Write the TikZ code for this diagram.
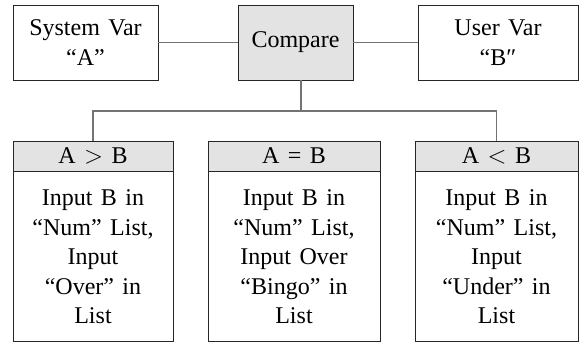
\documentclass[tikz,border=0pt]{standalone}
\usepackage{fontspec}
\setmainfont{Liberation Serif}[WordSpace=1.4]
\usepackage{tikz}
\usetikzlibrary{positioning}
\usetikzlibrary{calc}
\usepackage{xcolor}

\begin{document}
\begin{tikzpicture}[x=1pt,y=-1pt,
        box/.style={draw=black!85, line width=0.8pt, inner sep=0pt, align=center,
            font=\fontsize{24}{29.5}\selectfont},
        head/.style={box, fill=black!11, minimum height=30pt},
        link/.style={draw=black!55, line width=1.2pt}]
        \useasboundingbox (0,0) rectangle (582,342);
        % top row
        \node[box, minimum width=145pt, minimum height=75pt] (sysvar) at (85.5,42.5) {System Var\\“A”};
        \node[box, fill=black!11, minimum width=115pt, minimum height=75pt] (compare) at (295.5,42.5) {Compare};
        \node[box, minimum width=160pt, minimum height=75pt] (uservar) at (498,42.5) {User Var\\“B″};
        % three cases
        \node[head, minimum width=160pt] (gt) at (93,156) {A $>$ B};
        \node[head, minimum width=172pt] (eq) at (294,156) {A = B};
        \node[head, minimum width=163pt] (lt) at (496.5,156) {A $<$ B};
        \node[box, minimum width=160pt, minimum height=170pt, below=0pt of gt] (gtbody) {Input B in\\“Num” List,\\Input\\“Over” in\\List};
        \node[box, minimum width=172pt, minimum height=170pt, below=0pt of eq] (eqbody) {Input B in\\“Num” List,\\Input Over\\“Bingo” in\\List};
        \node[box, minimum width=163pt, minimum height=170pt, below=0pt of lt] (ltbody) {Input B in\\“Num” List,\\Input\\“Under” in\\List};
        % connectors
        \coordinate (hub) at (301,111);
        \draw[link] (sysvar) -- (compare);
        \draw[link] (compare) -- (uservar);
        \draw[link] (compare.south -| hub) -- (hub);
        \draw[link] (gt.north) |- (hub) -| (lt.north);
    \end{tikzpicture}
\end{document}
